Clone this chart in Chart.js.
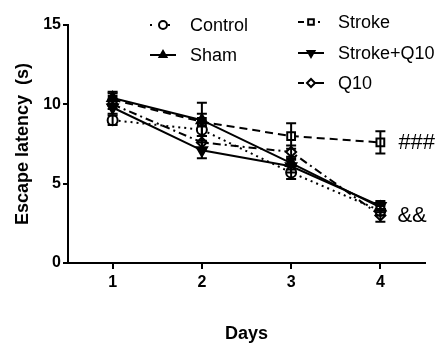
<!DOCTYPE html>
<html>
<head>
<meta charset="utf-8">
<script src="https://cdn.jsdelivr.net/npm/chart.js@4"></script>
<style>
  html, body { margin: 0; padding: 0; background: #fff; }
  #wrap { width: 441px; height: 345px; }
</style>
</head>
<body>
<div id="wrap"><canvas id="latencyChart" width="441" height="345"></canvas></div>
<script>
// days on the x axis
const days = [1, 2, 3, 4];

// mean escape latency (s)
const control   = [9.0, 8.4, 5.7, 3.3];
const sham      = [10.4, 9.0, 6.3, 3.5];
const stroke    = [10.3, 8.9, 8.0, 7.6];
const strokeQ10 = [9.8, 7.1, 6.1, 3.6];
const q10       = [10.0, 7.6, 7.0, 3.0];

// error bars (SEM)
const controlErr   = [0.3, 0.4, 0.4, 0.3];
const shamErr      = [0.4, 0.4, 0.4, 0.3];
const strokeErr    = [0.4, 1.2, 0.8, 0.7];
const strokeQ10Err = [0.4, 0.5, 0.4, 0.3];
const q10Err       = [0.3, 0.4, 0.4, 0.4];

const yTicks = [0, 5, 10, 15];

function pts(vals) {
    return days.map((d, i) => ({ x: d, y: vals[i] }));
}

const FONT = "'Liberation Sans', Arial, sans-serif";

const datasets = [
    { label: 'Control', data: pts(control), err: controlErr, borderDash: [2, 4],
      pointStyle: 'circle', pointRadius: 5, pointBackgroundColor: '#fff' },
    { label: 'Sham', data: pts(sham), err: shamErr, borderDash: [],
      pointStyle: 'triangle', pointRadius: 6, pointBackgroundColor: '#000' },
    { label: 'Stroke', data: pts(stroke), err: strokeErr, borderDash: [8, 5],
      pointStyle: 'rect', pointRadius: 5.5, pointBackgroundColor: '#fff' },
    { label: 'Stroke+Q10', data: pts(strokeQ10), err: strokeQ10Err, borderDash: [],
      pointStyle: 'triangle', pointRotation: 180, pointRadius: 6, pointBackgroundColor: '#000' },
    { label: 'Q10', data: pts(q10), err: q10Err, borderDash: [8, 4, 2, 4],
      pointStyle: 'rectRot', pointRadius: 5, pointBackgroundColor: '#fff' }
].map(ds => Object.assign({
    borderColor: '#000',
    borderWidth: 2,
    pointBorderColor: '#000',
    pointBorderWidth: 2,
    tension: 0,
    fill: false
}, ds));

// legend: [datasetIndex, symbol centre x, y, dash used for the short sample line]
const legendSpots = [
    [0, 163, 25, [2, 7]],
    [1, 163, 55, []],
    [2, 311, 22, [6, 14, 2, 10]],
    [3, 311, 53, []],
    [4, 311, 83, [6, 4, 30, 1]]
];

const errorBars = {
    id: 'errorBars',
    afterDatasetsDraw(chart) {
        const { ctx, scales: { x, y } } = chart;
        ctx.save();
        ctx.strokeStyle = '#000';
        ctx.lineWidth = 2;
        ctx.setLineDash([]);
        chart.data.datasets.forEach(ds => {
            ds.data.forEach((p, i) => {
                const px = x.getPixelForValue(p.x);
                const top = y.getPixelForValue(p.y + ds.err[i]);
                const bot = y.getPixelForValue(p.y - ds.err[i]);
                ctx.beginPath();
                ctx.moveTo(px, top); ctx.lineTo(px, bot);
                ctx.moveTo(px - 5, top); ctx.lineTo(px + 5, top);
                ctx.moveTo(px - 5, bot); ctx.lineTo(px + 5, bot);
                ctx.stroke();
            });
        });
        ctx.restore();
    }
};

const extras = {
    id: 'extras',
    afterDraw(chart) {
        const { ctx, scales: { x, y } } = chart;
        ctx.save();
        // legend
        ctx.font = '18px ' + FONT;
        ctx.textBaseline = 'middle';
        ctx.fillStyle = '#000';
        legendSpots.forEach(([idx, cx, cy, dash]) => {
            const ds = chart.data.datasets[idx];
            ctx.strokeStyle = '#000';
            ctx.lineWidth = 2;
            ctx.setLineDash(dash);
            ctx.beginPath();
            ctx.moveTo(cx - 13, cy); ctx.lineTo(cx + 13, cy);
            ctx.stroke();
            ctx.setLineDash([]);
            ctx.fillStyle = ds.pointBackgroundColor;
            Chart.helpers.drawPoint(ctx, {
                pointStyle: ds.pointStyle,
                rotation: ds.pointRotation || 0,
                radius: 4,
                borderWidth: 2
            }, cx, cy);
            ctx.fillStyle = '#000';
            ctx.fillText(ds.label, cx + 27, cy + 1);
        });
        // significance marks
        ctx.font = '22px ' + FONT;
        ctx.fillText('###', x.getPixelForValue(4) + 18, y.getPixelForValue(stroke[3]) + 1);
        ctx.fillText('&&', x.getPixelForValue(4) + 17, y.getPixelForValue(q10[3]) + 1);
        ctx.restore();
    }
};

new Chart(document.getElementById('latencyChart'), {
    type: 'line',
    data: { datasets },
    options: {
        responsive: false,
        animation: false,
        layout: { padding: { top: 25, right: 16, left: 0, bottom: 0 } },
        plugins: { legend: { display: false }, tooltip: { enabled: false } },
        scales: {
            x: {
                type: 'linear',
                min: 0.5,
                max: 4.5,
                afterBuildTicks: s => { s.ticks = days.map(v => ({ value: v })); },
                afterFit: s => { s.height = 82; },
                border: { color: '#000', width: 2 },
                grid: { drawOnChartArea: false, drawTicks: true, tickLength: 6, color: '#000', lineWidth: 2 },
                ticks: { color: '#000', padding: 4, font: { family: FONT, size: 16, weight: 'bold' } },
                title: { display: true, text: 'Days', color: '#000',
                         font: { family: FONT, size: 18, weight: 'bold' }, padding: { top: 0, bottom: 0 } }
            },
            y: {
                min: 0,
                max: 15,
                afterBuildTicks: s => { s.ticks = yTicks.map(v => ({ value: v })); },
                afterFit: s => { s.width = 68; },
                border: { color: '#000', width: 2 },
                grid: { drawOnChartArea: false, drawTicks: true, tickLength: 5, color: '#000', lineWidth: 2 },
                ticks: { color: '#000', padding: 2, font: { family: FONT, size: 16, weight: 'bold' } },
                title: { display: true, text: 'Escape latency  (s)', color: '#000',
                         font: { family: FONT, size: 18, weight: 'bold' }, padding: { top: 12, bottom: 0 } }
            }
        }
    },
    plugins: [errorBars, extras]
});
</script>
</body>
</html>
